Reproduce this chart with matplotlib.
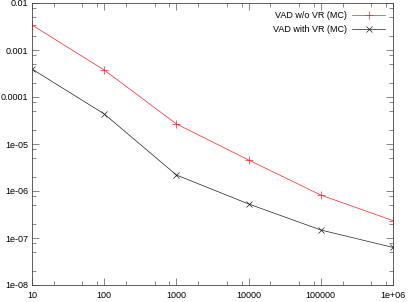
import matplotlib
matplotlib.use("Agg")
import matplotlib.pyplot as plt
from matplotlib.ticker import LogLocator, FixedLocator, FixedFormatter, NullFormatter

# Data
n_samples = [10, 100, 1000, 10000, 100000, 1000000]
vad_wo_vr = [3.4e-3, 3.75e-4, 2.67e-5, 4.57e-6, 8.2e-7, 2.34e-7]
vad_with_vr = [3.94e-4, 4.36e-5, 2.19e-6, 5.3e-7, 1.48e-7, 6.3e-8]

x_ticks = [10, 100, 1000, 10000, 100000, 1000000]
x_labels = ["10", "100", "1000", "10000", "100000", "1e+06"]
y_ticks = [1e-8, 1e-7, 1e-6, 1e-5, 1e-4, 1e-3, 1e-2]
y_labels = ["1e-08", "1e-07", "1e-06", "1e-05", "0.0001", "0.001", "0.01"]

plt.rcParams['font.family'] = ['Liberation Sans', 'DejaVu Sans']

fig = plt.figure(figsize=(4.08, 3.02), dpi=100)
ax = fig.add_axes([32 / 408, 1 - 285 / 302, 361 / 408, 282 / 302])

ax.plot(n_samples, vad_wo_vr, color='#ff2020', linewidth=0.5, marker='+',
        markersize=5.5, markeredgewidth=0.5, label='VAD w/o VR (MC)')
ax.plot(n_samples, vad_with_vr, color='#202020', linewidth=0.5, marker='x',
        markersize=4.5, markeredgewidth=0.5, label='VAD with VR (MC)')

ax.set_xscale('log')
ax.set_yscale('log')
ax.set_xlim(10, 1e6)
ax.set_ylim(1e-8, 1e-2)

ax.xaxis.set_major_locator(FixedLocator(x_ticks))
ax.xaxis.set_major_formatter(FixedFormatter(x_labels))
ax.yaxis.set_major_locator(FixedLocator(y_ticks))
ax.yaxis.set_major_formatter(FixedFormatter(y_labels))
ax.xaxis.set_minor_locator(LogLocator(base=10, subs=[2, 5, 8], numticks=20))
ax.yaxis.set_minor_locator(LogLocator(base=10, subs=[2, 5, 8], numticks=20))
ax.xaxis.set_minor_formatter(NullFormatter())
ax.yaxis.set_minor_formatter(NullFormatter())

ax.tick_params(which='both', direction='in', top=True, right=True,
               labelsize=6.5, width=0.5, color='#555555')
ax.tick_params(which='major', length=5)
ax.tick_params(which='minor', length=3)
ax.tick_params(axis='x', pad=4)
ax.tick_params(axis='y', pad=2.5)

for s in ax.spines.values():
    s.set_linewidth(0.6)
    s.set_color('#444444')

leg = ax.legend(loc='upper right', frameon=False, fontsize=6.5, markerfirst=False,
                handlelength=3.6, handletextpad=0.6, labelspacing=0.55,
                borderaxespad=0.5)

fig.savefig('out.png', dpi=100)
